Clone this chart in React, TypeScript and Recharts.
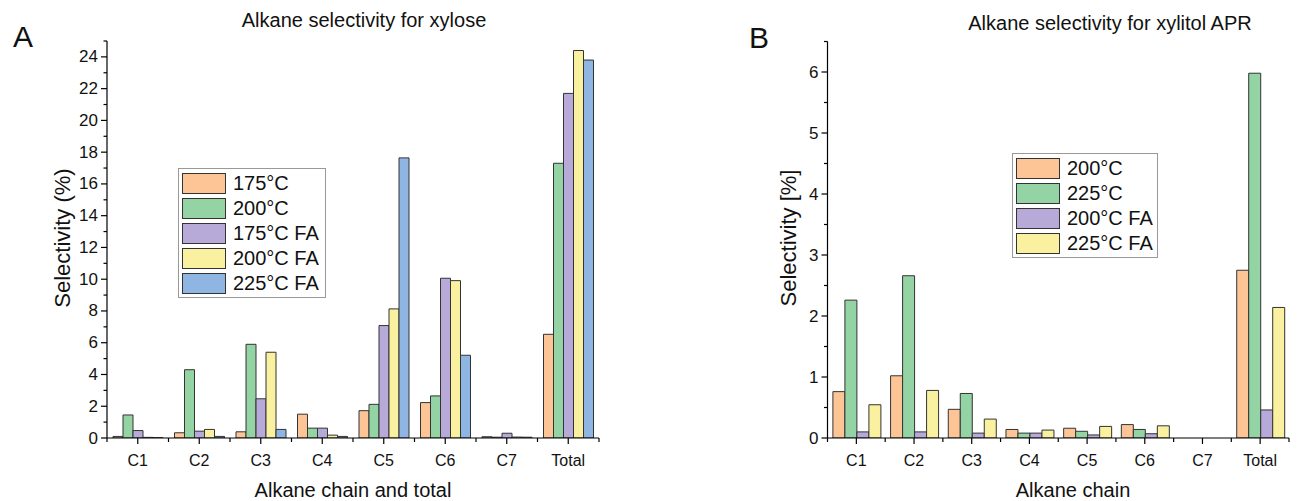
import { Bar, BarChart, XAxis, YAxis } from "recharts";

// categories shared by both panels
const CATEGORIES = ["C1", "C2", "C3", "C4", "C5", "C6", "C7", "Total"];

// panel A: xylose
const XYL_175 = [0.1, 0.33, 0.39, 1.5, 1.72, 2.23, 0.08, 6.53];
const XYL_200 = [1.45, 4.3, 5.9, 0.62, 2.12, 2.65, 0.05, 17.3];
const XYL_175_FA = [0.47, 0.43, 2.47, 0.62, 7.08, 10.06, 0.3, 21.7];
const XYL_200_FA = [0.04, 0.54, 5.4, 0.18, 8.13, 9.91, 0.06, 24.4];
const XYL_225_FA = [0.02, 0.1, 0.54, 0.1, 17.64, 5.21, 0.05, 23.8];

// panel B: xylitol APR
const APR_200 = [0.76, 1.02, 0.47, 0.14, 0.16, 0.22, 0, 2.75];
const APR_225 = [2.26, 2.66, 0.73, 0.08, 0.11, 0.14, 0, 5.98];
const APR_200_FA = [0.1, 0.1, 0.08, 0.08, 0.05, 0.07, 0, 0.46];
const APR_225_FA = [0.545, 0.78, 0.31, 0.13, 0.19, 0.2, 0, 2.14];

const A_Y_TICKS = [0, 1, 2, 3, 4, 5, 6, 7, 8, 9, 10, 11, 12, 13, 14, 15, 16, 17, 18, 19, 20, 21, 22, 23, 24, 25];
const B_Y_TICKS = [0, 0.5, 1, 1.5, 2, 2.5, 3, 3.5, 4, 4.5, 5, 5.5, 6, 6.5];

const ORANGE = "#fdc596";
const GREEN = "#93d3a4";
const PURPLE = "#b7aad8";
const YELLOW = "#f9f1a0";
const BLUE = "#8fb5e3";
const EDGE = "#333";
const FONT = '"Liberation Sans", Arial, Helvetica, sans-serif';

type Series = { key: string; name: string; color: string; values: number[] };

const A_SERIES: Series[] = [
  { key: "s175", name: "175°C", color: ORANGE, values: XYL_175 },
  { key: "s200", name: "200°C", color: GREEN, values: XYL_200 },
  { key: "s175fa", name: "175°C FA", color: PURPLE, values: XYL_175_FA },
  { key: "s200fa", name: "200°C FA", color: YELLOW, values: XYL_200_FA },
  { key: "s225fa", name: "225°C FA", color: BLUE, values: XYL_225_FA },
];

const B_SERIES: Series[] = [
  { key: "r200", name: "200°C", color: ORANGE, values: APR_200 },
  { key: "r225", name: "225°C", color: GREEN, values: APR_225 },
  { key: "r200fa", name: "200°C FA", color: PURPLE, values: APR_200_FA },
  { key: "r225fa", name: "225°C FA", color: YELLOW, values: APR_225_FA },
];

function toRows(series: Series[]) {
  return CATEGORIES.map((c, i) => {
    const row: Record<string, string | number> = { name: c };
    series.forEach((s) => (row[s.key] = s.values[i]));
    return row;
  });
}

function makeYTick(axisX: number, labelEvery: number) {
  return (props: any) => {
    const { y, payload } = props;
    const v = payload.value as number;
    const r = v / labelEvery;
    const major = Math.abs(r - Math.round(r)) < 1e-6;
    return (
      <g>
        <line x1={axisX - (major ? 6 : 3.5)} x2={axisX} y1={y} y2={y} stroke="#000" strokeWidth={1.2} />
        {major && (
          <text x={axisX - 9} y={y} textAnchor="end" dominantBaseline="central" fontSize={17} fontFamily={FONT} fill="#111">
            {v}
          </text>
        )}
      </g>
    );
  };
}

function makeXTick(axisY: number, band: number) {
  return (props: any) => {
    const { x, payload } = props;
    const idx = props.index ?? payload.index ?? 0;
    const last = idx === CATEGORIES.length - 1;
    return (
      <g>
        <line x1={x} x2={x} y1={axisY} y2={axisY + 6} stroke="#000" strokeWidth={1.2} />
        <line x1={x - band / 2} x2={x - band / 2} y1={axisY} y2={axisY + 4} stroke="#000" strokeWidth={1.2} />
        {last && <line x1={x + band / 2} x2={x + band / 2} y1={axisY} y2={axisY + 4} stroke="#000" strokeWidth={1.2} />}
        <text x={x} y={axisY + 22} textAnchor="middle" dominantBaseline="central" fontSize={16} fontFamily={FONT} fill="#111">
          {payload.value}
        </text>
      </g>
    );
  };
}

function Txt({ x, y, size, rotate, children }: { x: number; y: number; size: number; rotate?: boolean; children: any }) {
  return (
    <div
      style={{
        position: "absolute",
        left: x,
        top: y,
        transform: `translate(-50%, -50%)${rotate ? " rotate(-90deg)" : ""}`,
        fontFamily: FONT,
        fontSize: size,
        lineHeight: 1,
        whiteSpace: "nowrap",
        color: "#111",
      }}
    >
      {children}
    </div>
  );
}

function LegendBox({ series, left, top, width }: { series: Series[]; left: number; top: number; width: number }) {
  return (
    <div
      style={{
        position: "absolute",
        left,
        top,
        width,
        height: series.length * 25 + 5,
        border: "1px solid #999",
        background: "#fff",
        boxSizing: "border-box",
      }}
    >
      {series.map((s, i) => (
        <div key={s.key} style={{ position: "absolute", left: 3, top: 3 + i * 25, height: 22, display: "flex", alignItems: "center" }}>
          <div style={{ width: 44, height: 21, background: s.color, border: `1px solid ${EDGE}`, boxSizing: "border-box" }} />
          <span style={{ marginLeft: 7, fontFamily: FONT, fontSize: 20, color: "#111", whiteSpace: "nowrap" }}>{s.name}</span>
        </div>
      ))}
    </div>
  );
}

export default function App() {
  const aRows = toRows(A_SERIES);
  const bRows = toRows(B_SERIES);
  // panel A plot: x 107..599, y 41..438 ; panel B plot: x 827.5..1289
  const aBand = (599 - 107) / CATEGORIES.length;
  const bBand = (1289 - 827.5) / CATEGORIES.length;

  return (
    <div style={{ position: "absolute", left: 0, top: 0, width: 1311, height: 501, background: "#fff", overflow: "hidden" }}>
      <div style={{ position: "absolute", left: 0, top: 0 }}>
        <BarChart width={620} height={501} data={aRows} margin={{ top: 41, right: 21, bottom: 33, left: 57 }} barGap={0} barCategoryGap={6}>
          <XAxis dataKey="name" height={30} axisLine={{ stroke: "#000", strokeWidth: 1.2 }} tickLine={false} interval={0} tick={makeXTick(438, aBand)} />
          <YAxis width={50} domain={[0, 25]} ticks={A_Y_TICKS} interval={0} allowDataOverflow axisLine={{ stroke: "#000", strokeWidth: 1.2 }} tickLine={false} tick={makeYTick(107, 2)} />
          {A_SERIES.map((s) => (
            <Bar key={s.key} dataKey={s.key} name={s.name} fill={s.color} stroke={EDGE} strokeWidth={1} isAnimationActive={false} />
          ))}
        </BarChart>
      </div>
      <div style={{ position: "absolute", left: 720, top: 0 }}>
        <BarChart width={591} height={501} data={bRows} margin={{ top: 41.5, right: 22, bottom: 33, left: 57.5 }} barGap={0} barCategoryGap={5.4}>
          <XAxis dataKey="name" height={30} axisLine={{ stroke: "#000", strokeWidth: 1.2 }} tickLine={false} interval={0} tick={makeXTick(438, bBand)} />
          <YAxis width={50} domain={[0, 6.5]} ticks={B_Y_TICKS} interval={0} allowDataOverflow axisLine={{ stroke: "#000", strokeWidth: 1.2 }} tickLine={false} tick={makeYTick(107.5, 1)} />
          {B_SERIES.map((s) => (
            <Bar key={s.key} dataKey={s.key} name={s.name} fill={s.color} stroke={EDGE} strokeWidth={1} isAnimationActive={false} />
          ))}
        </BarChart>
      </div>

      <LegendBox series={A_SERIES} left={178} top={168} width={148} />
      <LegendBox series={B_SERIES} left={1012} top={153} width={146} />

      <Txt x={23} y={37} size={30}>A</Txt>
      <Txt x={759} y={38} size={30}>B</Txt>
      <Txt x={364} y={20} size={20}>Alkane selectivity for xylose</Txt>
      <Txt x={1110} y={23} size={20}>Alkane selectivity for xylitol APR</Txt>
      <Txt x={353} y={490} size={20}>Alkane chain and total</Txt>
      <Txt x={1073} y={490} size={20}>Alkane chain</Txt>
      <Txt x={63} y={238} size={22} rotate>Selectivity (%)</Txt>
      <Txt x={789} y={238} size={22} rotate>Selectivity [%]</Txt>
    </div>
  );
}
